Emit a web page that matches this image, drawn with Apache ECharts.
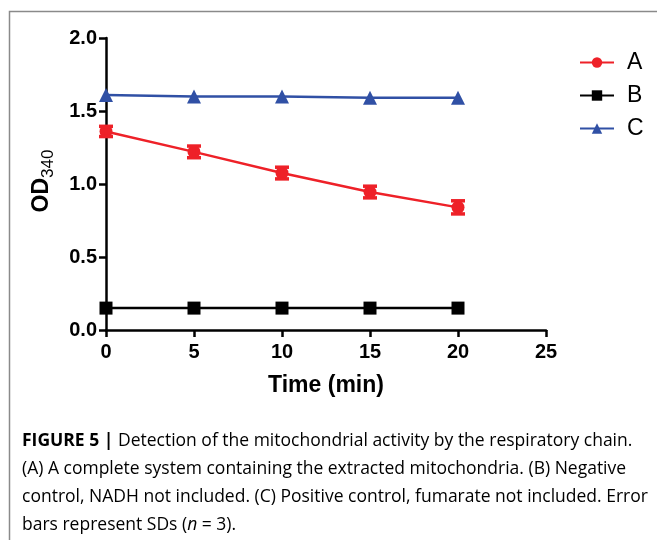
<!DOCTYPE html>
<html>
<head>
<meta charset="utf-8">
<script src="https://cdn.jsdelivr.net/npm/echarts@6/dist/echarts.min.js"></script>
<style>
  html, body { margin: 0; padding: 0; background: #fff; }
  #chart { width: 657px; height: 540px; }
</style>
</head>
<body>
<div id="chart"></div>
<script>
  // time points (min)
  const times = [0, 5, 10, 15, 20];
  const seriesA = [1.36, 1.22, 1.075, 0.945, 0.84];
  const errA = [0.035, 0.04, 0.04, 0.04, 0.045];
  const seriesB = [0.15, 0.15, 0.15, 0.15, 0.15];
  const seriesC = [1.61, 1.60, 1.60, 1.59, 1.59];

  const red = '#ee2128';
  const black = '#000000';
  const blue = '#3050a5';

  function pairs(values) {
    return times.map(function (t, i) { return [t, values[i]]; });
  }

  const errData = times.map(function (t, i) {
    return [t, seriesA[i] - errA[i], seriesA[i] + errA[i]];
  });

  const chart = echarts.init(document.getElementById('chart'), null, { renderer: 'canvas' });

  const sans = 'Liberation Sans, Arial, sans-serif';
  const axisFont = { fontFamily: sans, fontWeight: 'bold', fontSize: 20, color: '#000' };
  const capFont = 'Open Sans, Liberation Sans, sans-serif';

  chart.setOption({
    animation: false,
    backgroundColor: '#fff',
    grid: { left: 106, right: 111, top: 38, bottom: 210, containLabel: false },
    legend: {
      orient: 'vertical',
      left: 574,
      top: 46,
      itemWidth: 34,
      itemHeight: 13,
      itemGap: 10,
      textStyle: { fontFamily: sans, fontSize: 23, color: '#000', padding: [0, 0, 0, 8] },
      data: ['A', 'B', 'C']
    },
    xAxis: {
      type: 'value',
      min: 0,
      max: 25,
      interval: 5,
      name: 'Time (min)',
      nameLocation: 'middle',
      nameGap: 44,
      nameTextStyle: { fontFamily: sans, fontWeight: 'bold', fontSize: 23, color: '#000' },
      axisLine: { show: true, lineStyle: { color: '#000', width: 2.5 } },
      axisTick: { show: true, inside: false, length: 7, lineStyle: { color: '#000', width: 2.5 } },
      axisLabel: Object.assign({ margin: 12 }, axisFont),
      splitLine: { show: false }
    },
    yAxis: {
      type: 'value',
      min: 0,
      max: 2,
      interval: 0.5,
      axisLine: { show: true, lineStyle: { color: '#000', width: 2.5 } },
      axisTick: { show: true, inside: false, length: 7, lineStyle: { color: '#000', width: 2.5 } },
      axisLabel: Object.assign({ margin: 9, formatter: function (v) { return v.toFixed(1); } }, axisFont),
      splitLine: { show: false }
    },
    graphic: [
      {
        type: 'polyline',
        shape: { points: [[9.5, 540], [9.5, 11.5], [657, 11.5]] },
        style: { stroke: '#8a8a8a', lineWidth: 1.5, fill: null },
        silent: true
      },
      {
        type: 'text',
        x: 42,
        y: 181,
        rotation: Math.PI / 2,
        style: {
          text: '{a|OD}{b|340}',
          align: 'center',
          verticalAlign: 'middle',
          rich: {
            a: { fontFamily: sans, fontWeight: 'bold', fontSize: 23, color: '#000', lineHeight: 30, verticalAlign: 'middle' },
            b: { fontFamily: sans, fontSize: 17, color: '#000', lineHeight: 30, padding: [12, 0, 0, 0], verticalAlign: 'bottom' }
          }
        }
      },
      {
        type: 'text',
        left: 22,
        top: 432,
        style: {
          text: [
            '{b|FIGURE 5 | }{r|Detection of the mitochondrial activity by the respiratory chain.}',
            '{r|(A) A complete system containing the extracted mitochondria. (B) Negative}',
            '{r|control, NADH not included. (C) Positive control, fumarate not included. Error}',
            '{r|bars represent SDs (}{i|n}{r| = 3).}'
          ].join('\n'),
          rich: {
            b: { fontFamily: capFont, fontWeight: 'bold', fontSize: 17.5, color: '#333', lineHeight: 28 },
            r: { fontFamily: capFont, fontSize: 17.5, color: '#333', lineHeight: 28 },
            i: { fontFamily: capFont, fontStyle: 'italic', fontSize: 17.5, color: '#333', lineHeight: 28 }
          }
        }
      }
    ],
    series: [
      {
        name: 'B',
        type: 'line',
        data: pairs(seriesB),
        symbol: 'rect',
        symbolSize: 13,
        itemStyle: { color: black },
        lineStyle: { color: black, width: 2.5 },
        z: 3
      },
      {
        name: 'C',
        type: 'line',
        data: pairs(seriesC),
        symbol: 'triangle',
        symbolSize: 14,
        itemStyle: { color: blue },
        lineStyle: { color: blue, width: 2.5 },
        z: 3
      },
      {
        name: 'A',
        type: 'line',
        data: pairs(seriesA),
        symbol: 'circle',
        symbolSize: 13,
        itemStyle: { color: red },
        lineStyle: { color: red, width: 2.5 },
        z: 4
      },
      {
        name: 'A-err',
        type: 'custom',
        data: errData,
        z: 5,
        renderItem: function (params, api) {
          const x = api.value(0);
          const lo = api.coord([x, api.value(1)]);
          const hi = api.coord([x, api.value(2)]);
          const w = 7;
          const style = { stroke: red, lineWidth: 3.5 };
          return {
            type: 'group',
            children: [
              { type: 'line', shape: { x1: lo[0], y1: lo[1], x2: hi[0], y2: hi[1] }, style: style },
              { type: 'line', shape: { x1: lo[0] - w, y1: lo[1], x2: lo[0] + w, y2: lo[1] }, style: style },
              { type: 'line', shape: { x1: hi[0] - w, y1: hi[1], x2: hi[0] + w, y2: hi[1] }, style: style }
            ]
          };
        }
      }
    ]
  });
</script>
</body>
</html>
